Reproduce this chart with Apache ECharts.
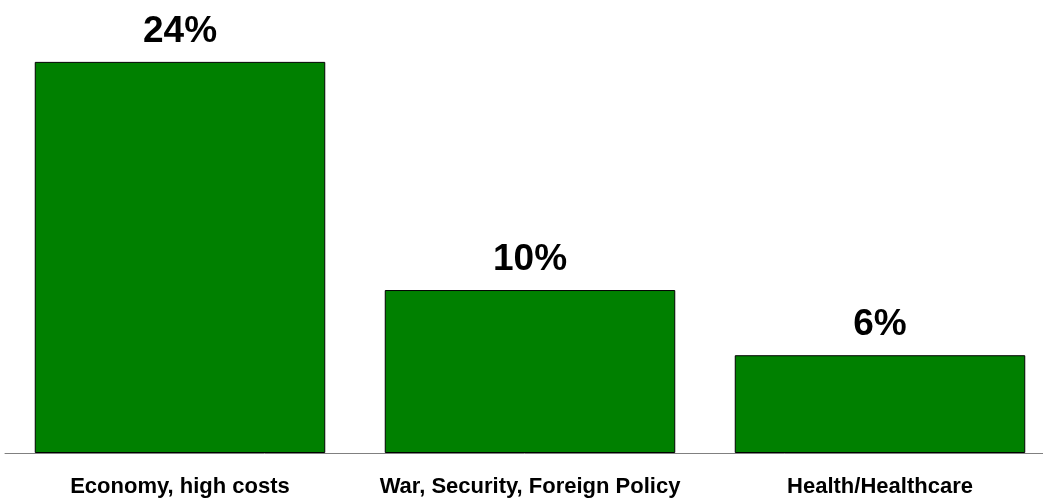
<!DOCTYPE html>
<html>
<head>
<meta charset="utf-8">
<script src="https://cdn.jsdelivr.net/npm/echarts@6/dist/echarts.min.js"></script>
<style>html,body{margin:0;padding:0;background:#fff;}#c{width:1043px;height:500px;}</style>
</head>
<body>
<div id="c"></div>
<script>
var categories = ['Economy, high costs', 'War, Security, Foreign Policy', 'Health/Healthcare'];
var values = [24, 10, 6];

var chart = echarts.init(document.getElementById('c'));
chart.setOption({
  animation: false,
  grid: { left: 5, width: 1050, top: 13, bottom: 47, containLabel: false, outerBoundsMode: 'none' },
  xAxis: {
    type: 'category',
    data: categories,
    axisLine: { show: true, lineStyle: { color: '#808080', width: 1 } },
    axisTick: { show: false },
    axisLabel: {
      margin: 23,
      color: '#000',
      fontFamily: 'Liberation Sans, Arial, sans-serif',
      fontWeight: 'bold',
      fontSize: 22,
      interval: 0
    }
  },
  yAxis: {
    type: 'value',
    min: 0,
    max: 27,
    show: false,
    splitLine: { show: false }
  },
  series: [{
    type: 'bar',
    data: values,
    barWidth: '83%',
    itemStyle: { color: '#008000', borderColor: '#000', borderWidth: 1 },
    label: {
      show: true,
      position: 'top',
      distance: 12,
      formatter: '{c}%',
      color: '#000',
      fontFamily: 'Liberation Sans, Arial, sans-serif',
      fontWeight: 'bold',
      fontSize: 37
    }
  }]
});
</script>
</body>
</html>
